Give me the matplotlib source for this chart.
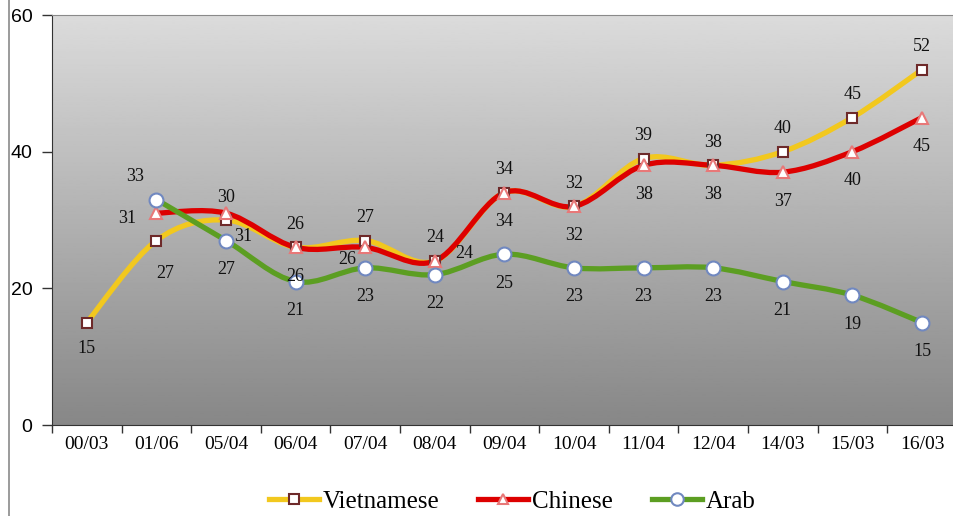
import numpy as np
import matplotlib
matplotlib.use("Agg")
import matplotlib.pyplot as plt
from matplotlib.path import Path
from matplotlib.patches import PathPatch
from matplotlib.lines import Line2D

# data
dates = ["00/03", "01/06", "05/04", "06/04", "07/04", "08/04", "09/04",
         "10/04", "11/04", "12/04", "14/03", "15/03", "16/03"]
vietnamese = [15, 27, 30, 26, 27, 24, 34, 32, 39, 38, 40, 45, 52]
chinese = [None, 31, 31, 26, 26, 24, 34, 32, 38, 38, 37, 40, 45]
arab = [None, 33, 27, 21, 23, 22, 25, 23, 23, 23, 21, 19, 15]

SERIF = "Liberation Serif"

# style per series: line colour, marker, marker edge, marker size, default label offset (px)
series = [
    ("Vietnamese", vietnamese, "#f2c81e", "s", "#6e2a2a", 7.5, (0, 23)),
    ("Chinese", chinese, "#dd0000", "^", "#e87878", 8.5, (0, -29)),
    ("Arab", arab, "#5c9e22", "o", "#7088c0", 10, (0, -29)),
]

# labels that sit somewhere other than the default spot
label_offsets = {
    ("Vietnamese", 0): (0, -26),
    ("Vietnamese", 1): (9, -33),
    ("Chinese", 1): (-29, -5),
    ("Chinese", 2): (17, -23),
    ("Chinese", 4): (-18, -12),
    ("Chinese", 5): (29, 7),
    ("Arab", 1): (-21, 23),
}


def smooth_path(xs, ys):
    # Excel-like smoothed line: cubic bezier segments, catmull-rom tangents
    pts = np.column_stack([xs, ys]).astype(float)
    n = len(pts)
    verts = [pts[0]]
    codes = [Path.MOVETO]
    for i in range(n - 1):
        p0 = pts[i - 1] if i > 0 else pts[i]
        p1 = pts[i]
        p2 = pts[i + 1]
        p3 = pts[i + 2] if i + 2 < n else pts[i + 1]
        c1 = p1 + (p2 - p0) / 6.0
        c2 = p2 - (p3 - p1) / 6.0
        verts += [c1, c2, p2]
        codes += [Path.CURVE4] * 3
    return Path(verts, codes)


fig = plt.figure(figsize=(9.54, 5.16), dpi=100)
ax = fig.add_axes([52 / 954, 91 / 516, 904.8 / 954, 410 / 516])

ax.set_xlim(-0.5, len(dates) - 0.5)
ax.set_ylim(0, 60)

# gradient background
grad = np.linspace(0.86, 0.53, 256).reshape(-1, 1)
ax.imshow(grad, cmap="gray", vmin=0, vmax=1, aspect="auto",
          extent=(-0.5, len(dates) - 0.5, 0, 60), origin="upper", zorder=0)

for z, (name, vals, color, mk, medge, ms, off) in enumerate(series):
    idx = [i for i, v in enumerate(vals) if v is not None]
    xs = np.array(idx)
    ys = np.array([vals[i] for i in idx])
    patch = PathPatch(smooth_path(xs, ys), fill=False, edgecolor=color,
                      lw=3.8, capstyle="round", joinstyle="round", zorder=2 + z)
    ax.add_patch(patch)
    ax.plot(xs, ys, ls="none", marker=mk, ms=ms, mfc="white", mec=medge,
            mew=1.5, zorder=5 + z)
    for i in idx:
        dx, dy = label_offsets.get((name, i), off)
        ax.annotate(str(vals[i]), (i, vals[i]), xytext=(dx, dy),
                    textcoords="offset pixels", ha="center", va="center",
                    fontsize=13, family=SERIF, color="#111111", zorder=10)

ax.set_xticks(range(len(dates)))
ax.set_xticklabels(dates, family=SERIF, fontsize=14)
ax.set_xticks(np.arange(-0.5, len(dates), 1), minor=True)
ax.tick_params(axis="x", which="major", length=0, pad=8)
ax.tick_params(axis="x", which="minor", length=6, width=1, color="#333333")

ax.set_yticks([0, 20, 40, 60])
ax.set_yticklabels(["0", "20", "40", "60"], family="Liberation Sans",
                   fontsize=14)
ax.tick_params(axis="y", length=7, width=1, color="#333333", pad=7)

for s in ["left", "bottom"]:
    ax.spines[s].set_color("#333333")
ax.spines["top"].set_color("#8a8a8a")
ax.spines["right"].set_visible(False)

# left border of the chart frame
fig.add_artist(Line2D([9 / 954, 9 / 954], [0, 1], color="#8a8a8a", lw=1.2))

handles = [Line2D([], [], color=c, lw=3.8, marker=mk, ms=ms * 0.9, mfc="white",
                  mec=me, mew=1.5) for _, _, c, mk, me, ms, _ in series]
fig.legend(handles, [s[0] for s in series], loc="center",
           bbox_to_anchor=(0.537, 0.028), ncol=3, frameon=False,
           prop={"family": SERIF, "size": 18}, handlelength=2.0,
           handletextpad=0.15, columnspacing=1.55)

fig.savefig("out.png", dpi=100)
